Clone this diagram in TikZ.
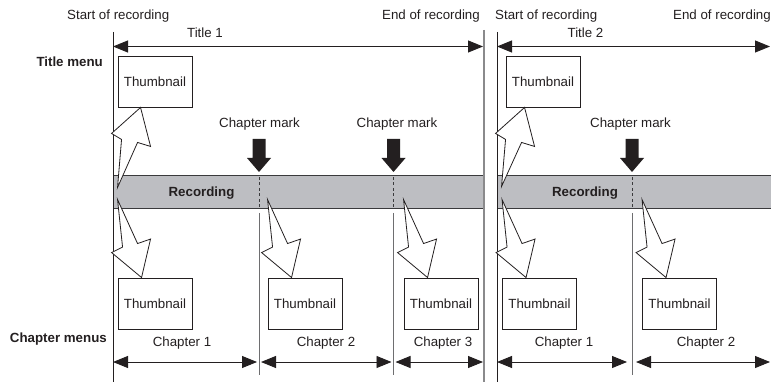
\documentclass[tikz,border=0pt]{standalone}
\usepackage{fontspec}
\setmainfont{Liberation Sans}
\usetikzlibrary{arrows.meta,calc}
\definecolor{txt}{HTML}{231F20}
\definecolor{barfill}{HTML}{BDBEC2}
\definecolor{barline}{HTML}{3A3A3C}
\definecolor{endline}{HTML}{8A8A8C}
\definecolor{chline}{HTML}{6E6E70}
\begin{document}
\begin{tikzpicture}[x=1pt,y=-1pt,
  lbl/.style={font=\fontsize{13.3}{16}\selectfont, inner sep=0pt, anchor=base, text=txt},
  blbl/.style={lbl, font=\fontsize{13.3}{16}\selectfont\bfseries},
  thumb/.style={draw=txt, line width=0.9pt, fill=white, minimum width=74pt, minimum height=51pt, inner sep=0pt, font=\fontsize{13.3}{16}\selectfont, text=txt},
  span/.style={draw=txt, line width=0.9pt, {Triangle[length=15pt,width=12pt]}-{Triangle[length=15pt,width=12pt]}},
  mainline/.style={draw=txt, line width=1pt},
  endl/.style={draw=endline, line width=1.8pt},
  chl/.style={draw=chline, line width=0.9pt},
  bar/.style={fill=barfill},
  barbord/.style={draw=barline, line width=1pt},
  dashln/.style={draw=barline, line width=0.9pt, dash pattern=on 3pt off 2.5pt},
  callout/.style={draw=txt, fill=white, line width=0.8pt, line join=miter},
  markfill/.style={fill=txt}
]
\useasboundingbox (0,0) rectangle (771,382);

% coordinates
\coordinate (s1t) at (113,32);   \coordinate (s1b) at (113,382);
\coordinate (e1t) at (484,30);   \coordinate (e1b) at (484,382);
\coordinate (s2t) at (497,32);   \coordinate (s2b) at (497,382);
\coordinate (c1t) at (259,213);  \coordinate (c1b) at (259,375);
\coordinate (c2t) at (393.5,213);\coordinate (c2b) at (393.5,375);
\coordinate (c3t) at (632,213);  \coordinate (c3b) at (632,375);

% recording bars
\fill[bar] (113,176) rectangle (483,209);
\fill[bar] (497,176) rectangle (771,209);
\draw[barbord] (113,176) -- (483,176);
\draw[barbord] (113,209) -- (483,209);
\draw[barbord] (497,176) -- (771,176);
\draw[barbord] (497,209) -- (771,209);
\draw[dashln] (259,177) -- (259,208);
\draw[dashln] (393.5,177) -- (393.5,208);
\draw[dashln] (632,177) -- (632,208);

% vertical lines
\draw[mainline] (s1t) -- (s1b);
\draw[endl] (e1t) -- (e1b);
\draw[mainline] (s2t) -- (s2b);
\draw[chl] (c1t) -- (c1b);
\draw[chl] (c2t) -- (c2b);
\draw[chl] (c3t) -- (c3b);

% top labels
\node[lbl, anchor=base west] (sr1) at (67,20) {Start of recording};
\node[lbl, anchor=base west] (er1) at (382,20) {End of recording};
\node[lbl, anchor=base west] (sr2) at (495,20) {Start of recording};
\node[lbl, anchor=base west] (er2) at (673,20) {End of recording};
\node[lbl] (ti1) at (205,38) {Title 1};
\node[lbl] (ti2) at (585.5,38) {Title 2};
\node[blbl, anchor=base east] (tm) at (103,67) {Title menu};
\node[blbl, anchor=base east] (cm) at (107,342) {Chapter menus};

% title spans
\coordinate (t1a) at (113,46.5); \coordinate (t1b) at (483,46.5);
\coordinate (t2a) at (497,46.5); \coordinate (t2b) at (770,46.5);
\draw[span] (t1a) -- (t1b);
\draw[span] (t2a) -- (t2b);

% recording labels
\node[blbl] (rec1) at (201.5,197) {Recording};
\node[blbl] (rec2) at (585,197) {Recording};

% chapter marks
\node[lbl] (cmk1) at (259.5,128) {Chapter mark};
\node[lbl] (cmk2) at (397,128) {Chapter mark};
\node[lbl] (cmk3) at (630.5,128) {Chapter mark};
\foreach \mx in {259,393.5,632}{
  \fill[markfill] (\mx,172) -- (\mx-12,158) -- (\mx-6.5,158) -- (\mx-6.5,139) -- (\mx+6.5,139) -- (\mx+6.5,158) -- (\mx+12,158) -- cycle;
}

% thumbnails
\node[thumb] (tt1) at (155,81.5) {Thumbnail};
\node[thumb] (tt2) at (543,81.5) {Thumbnail};
\node[thumb] (ct1) at (155,303.5) {Thumbnail};
\node[thumb] (ct2) at (305,303.5) {Thumbnail};
\node[thumb] (ct3) at (441,303.5) {Thumbnail};
\node[thumb] (ct4) at (539.5,303.5) {Thumbnail};
\node[thumb] (ct5) at (679.5,303.5) {Thumbnail};

% title callouts
\draw[callout, shift={(tt1.south west)}] (0,80) -- (4,32) -- (-6,26) -- (23,0) -- (33,39) -- (20,35) -- cycle;
\draw[callout, shift={($(tt2.south west)+(-4,0)$)}] (0,79) -- (4,32) -- (-6,26) -- (23,0) -- (33,39) -- (20,35) -- cycle;

% chapter callouts
\foreach \b in {ct1,ct2,ct3,ct4,ct5}{
  \draw[callout, shift={(\b.north west)}] (0,-78) -- (5,-30.5) -- (-6,-25) -- (24,0) -- (33,-38.5) -- (20,-34) -- cycle;
}

% chapter labels
\node[lbl] (ch1) at (182,346) {Chapter 1};
\node[lbl] (ch2) at (326,346) {Chapter 2};
\node[lbl] (ch3) at (443,346) {Chapter 3};
\node[lbl] (ch4) at (564,346) {Chapter 1};
\node[lbl] (ch5) at (706,346) {Chapter 2};

% chapter spans
\coordinate (a1) at (113,362);  \coordinate (b1) at (257,362);
\coordinate (a2) at (261,362);  \coordinate (b2) at (391.5,362);
\coordinate (a3) at (395.5,362);\coordinate (b3) at (483,362);
\coordinate (a4) at (497,362);  \coordinate (b4) at (627,362);
\coordinate (a5) at (636,362);  \coordinate (b5) at (770,362);
\draw[span] (a1) -- (b1);
\draw[span] (a2) -- (b2);
\draw[span] (a3) -- (b3);
\draw[span] (a4) -- (b4);
\draw[span] (a5) -- (b5);
\end{tikzpicture}
\end{document}
